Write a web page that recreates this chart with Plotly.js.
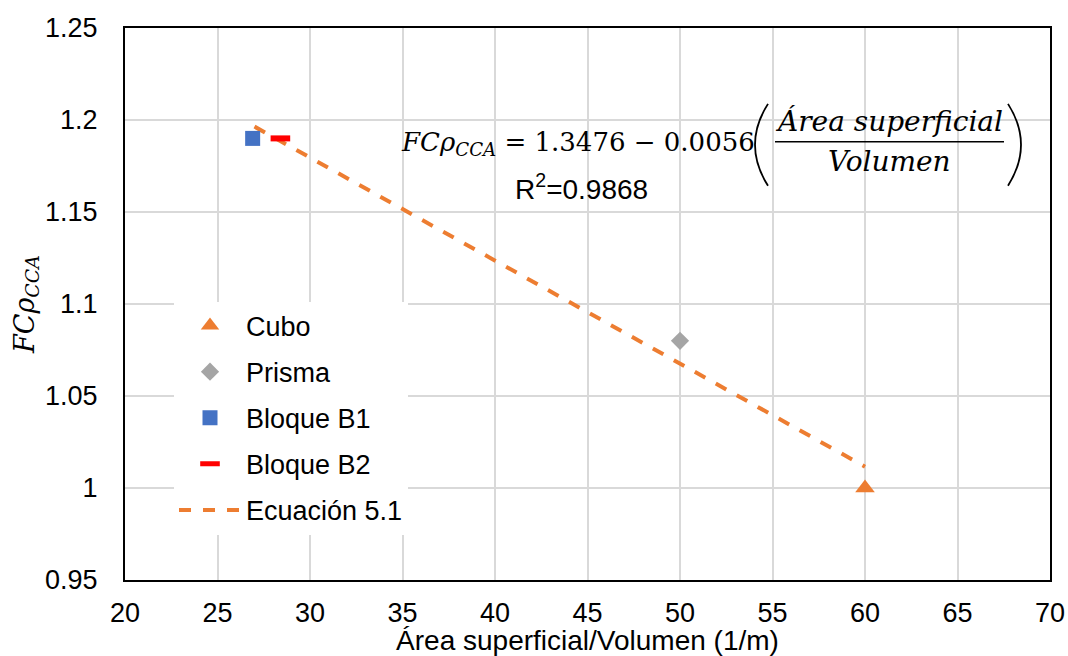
<!DOCTYPE html>
<html>
<head>
<meta charset="utf-8">
<script src="https://cdn.plot.ly/plotly-3.0.1.min.js"></script>
<style>html,body{margin:0;padding:0;background:#fff;}#chart{width:1068px;height:656px;}</style>
</head>
<body>
<div id="chart"></div>
<script>
// Data
const cuboX = [60];
const cuboY = [1.0];
const prismaX = [50];
const prismaY = [1.08];
const b1X = [26.9];
const b1Y = [1.19];
const b2X = [28.4];
const b2Y = [1.19];
const ecuX = [27, 60];
const ecuY = [1.1964, 1.0116];

const seriesNames = ['Cubo', 'Prisma', 'Bloque B1', 'Bloque B2', 'Ecuación 5.1'];
const xTicks = [20, 25, 30, 35, 40, 45, 50, 55, 60, 65, 70];
const yTicks = [0.95, 1, 1.05, 1.1, 1.15, 1.2, 1.25];
const yTickText = ['0.95', '1', '1.05', '1.1', '1.15', '1.2', '1.25'];

const sans = 'Liberation Sans, Arial, sans-serif';
const serif = 'DejaVu Serif, Liberation Serif, serif';

const traces = [
  {x: ecuX, y: ecuY, name: seriesNames[4], mode: 'lines', type: 'scatter', legendgroup: 'e', legendrank: 5,
   line: {color: '#ED7D31', width: 4, dash: 'dash'}},
  {x: cuboX, y: cuboY, name: seriesNames[0], mode: 'markers', type: 'scatter', legendgroup: 'a', legendrank: 1,
   marker: {symbol: 'triangle-up', size: 17, color: '#ED7D31'}},
  {x: prismaX, y: prismaY, name: seriesNames[1], mode: 'markers', type: 'scatter', legendgroup: 'b', legendrank: 2,
   marker: {symbol: 'diamond', size: 14, color: '#A5A5A5'}},
  {x: b1X, y: b1Y, name: seriesNames[2], mode: 'markers', type: 'scatter', legendgroup: 'c', legendrank: 3,
   marker: {symbol: 'square', size: 15, color: '#4472C4'}},
  {x: b2X, y: b2Y, name: seriesNames[3], mode: 'markers', type: 'scatter', legendgroup: 'd', legendrank: 4,
   marker: {symbol: 'line-ew-open', size: 14, color: '#FF0000', line: {color: '#FF0000', width: 6}}}
];

function px2x(p){ return (p - 125) / 925; }
function px2y(p){ return (580 - p) / 553; }

const layout = {
  width: 1068, height: 656,
  margin: {l: 125, r: 18, t: 28, b: 76},
  paper_bgcolor: '#fff', plot_bgcolor: '#fff',
  font: {family: sans, size: 27, color: '#000'},
  showlegend: true,
  legend: {
    x: px2x(174), y: px2y(301), xanchor: 'left', yanchor: 'top',
    bgcolor: '#fff', borderwidth: 0,
    font: {family: sans, size: 27, color: '#000'},
    traceorder: 'grouped', tracegroupgap: 8, itemwidth: 62
  },
  xaxis: {
    range: [20, 70], tickvals: xTicks, ticktext: xTicks.map(String),
    showgrid: true, gridcolor: '#D9D9D9', gridwidth: 2, zeroline: false,
    showline: true, mirror: true, linecolor: '#000', linewidth: 2,
    ticks: '', ticklen: 0, ticklabelstandoff: 8,
    tickfont: {family: sans, size: 27, color: '#000'},
    automargin: false,
    title: {text: 'Área superficial/Volumen (1/m)', standoff: 0,
            font: {family: sans, size: 28, color: '#000'}}
  },
  yaxis: {
    range: [0.95, 1.25], tickvals: yTicks, ticktext: yTickText,
    showgrid: true, gridcolor: '#D9D9D9', gridwidth: 2, zeroline: false,
    showline: true, mirror: true, linecolor: '#000', linewidth: 2,
    ticks: '', ticklen: 0, ticklabelstandoff: 20,
    tickfont: {family: sans, size: 27, color: '#000'},
    automargin: false,
    title: {text: '<i>FCρ</i><sub><i>CCA</i></sub>', standoff: 3,
            font: {family: serif, size: 27, color: '#000'}}
  },
  annotations: [
    {xref: 'paper', yref: 'paper', x: px2x(399), y: px2y(143), xanchor: 'left', yanchor: 'middle',
     showarrow: false, font: {family: serif, size: 26, color: '#000'},
     text: '<i>FCρ</i><sub><i>CCA</i></sub> = 1.3476 − 0.0056'},
    {xref: 'paper', yref: 'paper', x: px2x(889), y: px2y(121), xanchor: 'center', yanchor: 'middle',
     showarrow: false, font: {family: serif, size: 28, color: '#000'}, text: '<i>Área superficial</i>'},
    {xref: 'paper', yref: 'paper', x: px2x(889), y: px2y(161), xanchor: 'center', yanchor: 'middle',
     showarrow: false, font: {family: serif, size: 28, color: '#000'}, text: '<i>Volumen</i>'},
    {xref: 'paper', yref: 'paper', x: px2x(581), y: px2y(186), xanchor: 'center', yanchor: 'middle',
     showarrow: false, font: {family: sans, size: 28, color: '#000'},
     text: 'R<sup>2</sup>=0.9868'}
  ],
  shapes: [
    {type: 'line', xref: 'paper', yref: 'paper', x0: px2x(775), x1: px2x(1004), y0: px2y(141), y1: px2y(141),
     line: {color: '#000', width: 1.5}},
    {type: 'path', xref: 'paper', yref: 'paper',
     path: 'M ' + px2x(768) + ',' + px2y(103) + ' Q ' + px2x(742) + ',' + px2y(144) + ' ' + px2x(768) + ',' + px2y(185),
     line: {color: '#000', width: 1.8}},
    {type: 'path', xref: 'paper', yref: 'paper',
     path: 'M ' + px2x(1008) + ',' + px2y(103) + ' Q ' + px2x(1034) + ',' + px2y(144) + ' ' + px2x(1008) + ',' + px2y(185),
     line: {color: '#000', width: 1.8}}
  ]
};

Plotly.newPlot('chart', traces, layout, {displayModeBar: false, staticPlot: true});
</script>
</body>
</html>
